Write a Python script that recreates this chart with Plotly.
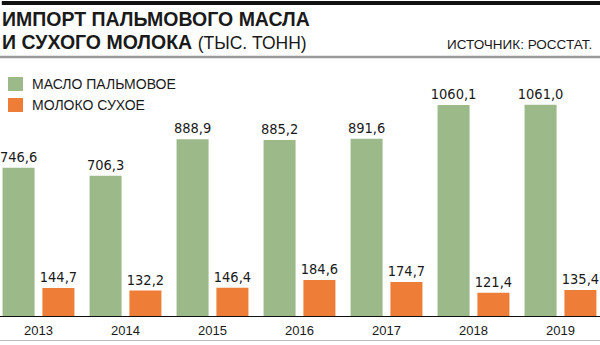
import plotly.graph_objects as go

years = ["2013", "2014", "2015", "2016", "2017", "2018", "2019"]
palm_oil = [746.6, 706.3, 888.9, 885.2, 891.6, 1060.1, 1061.0]
milk_powder = [144.7, 132.2, 146.4, 184.6, 174.7, 121.4, 135.4]
series_names = ["МАСЛО ПАЛЬМОВОЕ", "МОЛОКО СУХОЕ"]

GREEN = "#9cb98a"
ORANGE = "#ee7d37"
TXT = "#1a1a1a"
NARROW = "DejaVu Sans Condensed"

W, H = 600, 345
T, B = 60, 28
PLOT_H = H - T - B  # plot area pixel height


def py(p):
    """pixel y (from top) -> paper y"""
    return (H - B - p) / PLOT_H


def fmt(v):
    return f"{v:.1f}".replace(".", ",")


xs = list(range(len(years)))
BW = 0.368

fig = go.Figure()
fig.add_trace(go.Bar(
    x=xs, y=palm_oil, name=series_names[0], width=BW, offset=-0.413,
    marker=dict(color=GREEN, line=dict(width=0)),
    text=[fmt(v) for v in palm_oil], textposition="outside",
    textfont=dict(family=NARROW, size=14.5, color=TXT),
    constraintext="none", cliponaxis=False,
))
fig.add_trace(go.Bar(
    x=xs, y=milk_powder, name=series_names[1], width=BW, offset=0.045,
    marker=dict(color=ORANGE, line=dict(width=0)),
    text=[fmt(v) for v in milk_powder], textposition="outside",
    textfont=dict(family=NARROW, size=14.5, color=TXT),
    constraintext="none", cliponaxis=False,
))

shapes = [
    # top black bar
    dict(type="rect", xref="paper", yref="paper", x0=0.003, x1=1, y0=py(5), y1=py(1),
         fillcolor="#111111", line=dict(width=0)),
    # grey rule under title
    dict(type="line", xref="paper", yref="paper", x0=0, x1=1, y0=py(57), y1=py(57),
         line=dict(color="#9a9a9a", width=2.5)),
    # baseline
    dict(type="line", xref="paper", yref="y", x0=0, x1=1, y0=0, y1=0,
         line=dict(color="#111111", width=2)),
    # bottom rule
    dict(type="line", xref="paper", yref="paper", x0=0, x1=1, y0=py(340.5), y1=py(340.5),
         line=dict(color="#bdbdbd", width=1)),
    # legend swatches
    dict(type="rect", xref="paper", yref="paper", x0=8 / W, x1=23 / W, y0=py(91), y1=py(77),
         fillcolor=GREEN, line=dict(width=0)),
    dict(type="rect", xref="paper", yref="paper", x0=8 / W, x1=23 / W, y0=py(112), y1=py(98),
         fillcolor=ORANGE, line=dict(width=0)),
]

annotations = [
    dict(text="<b>ИМПОРТ ПАЛЬМОВОГО МАСЛА</b>", x=0, y=py(19), xref="paper", yref="paper",
         xanchor="left", yanchor="middle", showarrow=False,
         font=dict(family="Liberation Sans", size=19.5, color=TXT)),
    dict(text="<b>И СУХОГО МОЛОКА</b> <span style='font-size:17.5px'>(ТЫС. ТОНН)</span>",
         x=0, y=py(42), xref="paper", yref="paper",
         xanchor="left", yanchor="middle", showarrow=False,
         font=dict(family="Liberation Sans", size=19.5, color=TXT)),
    dict(text="ИСТОЧНИК: РОССТАТ.", x=594 / W, y=py(44.5), xref="paper", yref="paper",
         xanchor="right", yanchor="middle", showarrow=False,
         font=dict(family="Liberation Sans", size=13.5, color=TXT)),
    dict(text=series_names[0], x=30 / W, y=py(84), xref="paper", yref="paper",
         xanchor="left", yanchor="middle", showarrow=False,
         font=dict(family="Liberation Sans", size=14, color=TXT)),
    dict(text=series_names[1], x=30 / W, y=py(105), xref="paper", yref="paper",
         xanchor="left", yanchor="middle", showarrow=False,
         font=dict(family="Liberation Sans", size=14, color=TXT)),
]

fig.update_layout(
    width=W, height=H,
    margin=dict(l=0, r=0, t=T, b=B, pad=0),
    paper_bgcolor="white", plot_bgcolor="white",
    showlegend=False,
    barmode="overlay",
    shapes=shapes,
    annotations=annotations,
    xaxis=dict(range=[-0.4425, 6.454], tickvals=xs, ticktext=years,
               showgrid=False, zeroline=False, showline=False,
               ticks="outside", ticklen=1, tickcolor="rgba(0,0,0,0)",
               tickfont=dict(family="Liberation Sans", size=13, color=TXT)),
    yaxis=dict(range=[0, PLOT_H / 0.2], visible=False, showgrid=False, zeroline=False),
)

fig.write_html("out.html")
